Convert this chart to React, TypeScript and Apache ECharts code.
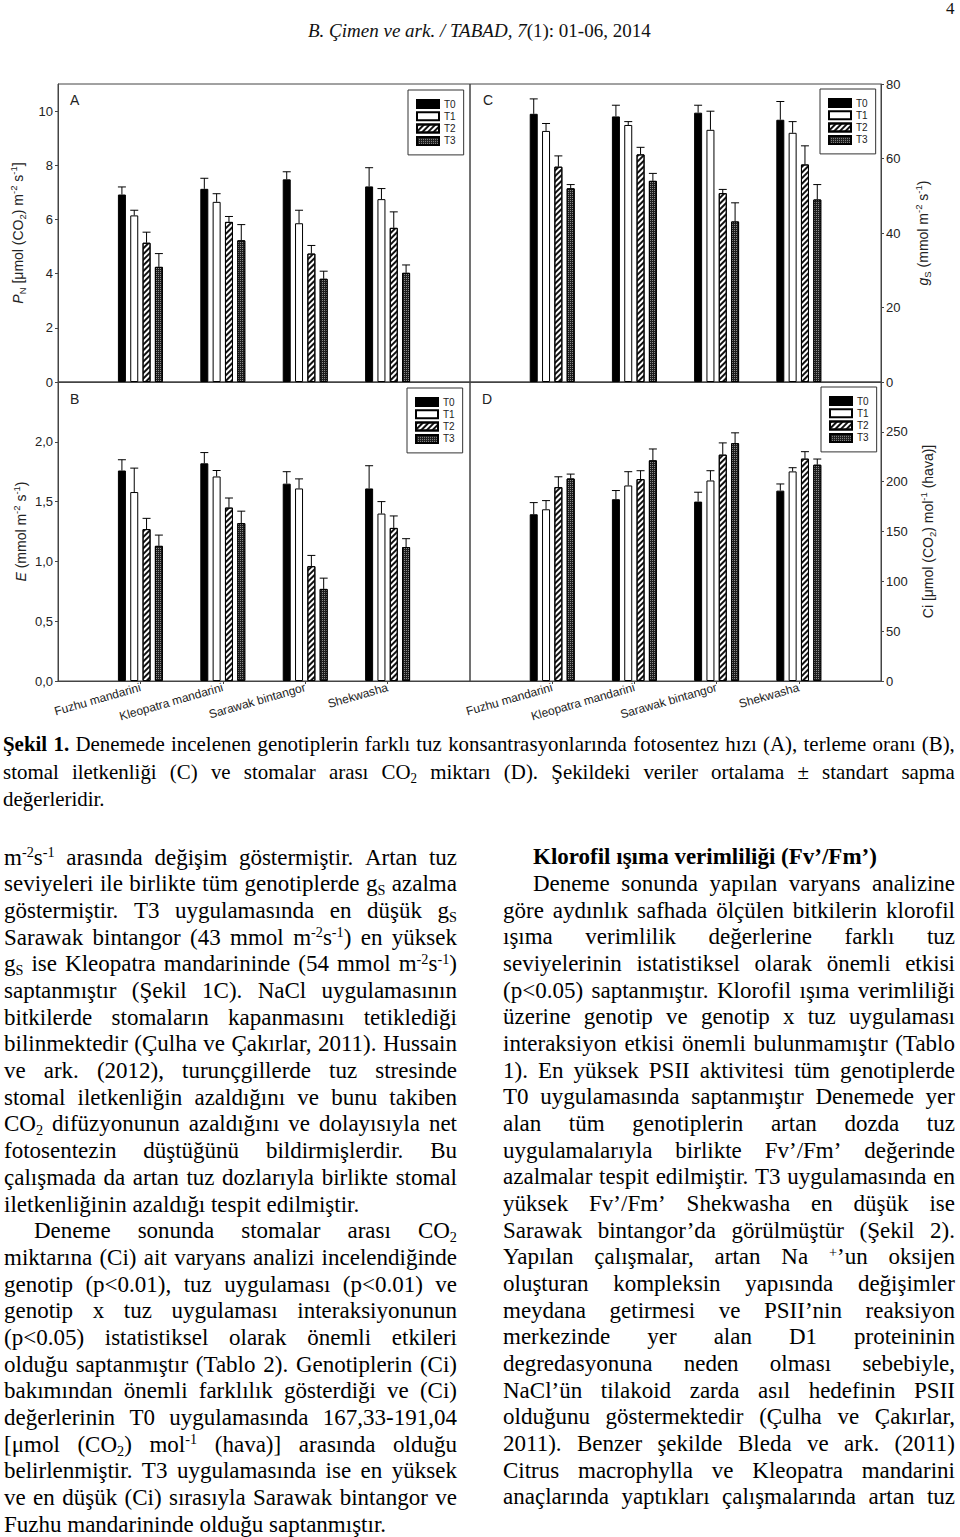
import React, { useEffect, useRef } from 'react';
import * as echarts from 'echarts';

// ---------------- data ----------------
const CATEGORIES = ['Fuzhu mandarini', 'Kleopatra mandarini', 'Sarawak bintangor', 'Shekwasha'];
const TREATMENTS = ['T0', 'T1', 'T2', 'T3'];

// A: photosynthesis rate PN (rows = T0..T3, columns = genotypes)
const PN_MEAN = [
  [6.92, 7.13, 7.48, 7.22],
  [6.15, 6.65, 5.86, 6.75],
  [5.14, 5.91, 4.74, 5.69],
  [4.25, 5.23, 3.81, 4.03],
];
const PN_ERR = [
  [0.28, 0.39, 0.28, 0.69],
  [0.19, 0.3, 0.48, 0.39],
  [0.39, 0.2, 0.3, 0.59],
  [0.49, 0.58, 0.28, 0.29],
];
// C: stomatal conductance gS
const GS_MEAN = [
  [72.0, 71.3, 72.3, 70.4],
  [67.4, 69.0, 67.7, 66.9],
  [57.8, 61.1, 50.7, 58.4],
  [52.0, 54.0, 43.1, 49.0],
];
const GS_ERR = [
  [4.0, 3.0, 2.0, 4.9],
  [2.0, 0.9, 5.0, 3.0],
  [2.9, 1.9, 1.0, 5.0],
  [1.0, 2.0, 5.0, 4.0],
];
// B: transpiration E
const E_MEAN = [
  [1.76, 1.82, 1.65, 1.61],
  [1.58, 1.71, 1.61, 1.4],
  [1.27, 1.45, 0.96, 1.28],
  [1.13, 1.32, 0.77, 1.12],
];
const E_ERR = [
  [0.09, 0.09, 0.1, 0.19],
  [0.2, 0.05, 0.08, 0.1],
  [0.09, 0.08, 0.09, 0.1],
  [0.09, 0.1, 0.09, 0.07],
];
// D: intercellular CO2 Ci
const CI_MEAN = [
  [167.3, 182.4, 180.0, 191.0],
  [172.3, 196.2, 201.2, 210.3],
  [194.5, 202.6, 227.1, 223.1],
  [203.2, 221.4, 238.6, 217.0],
];
const CI_ERR = [
  [11.7, 8.7, 9.4, 6.7],
  [8.7, 13.8, 9.8, 3.7],
  [10.4, 8.4, 11.8, 7.0],
  [4.4, 11.4, 10.4, 5.7],
];

const PN_TICKS = [0, 2, 4, 6, 8, 10];
const GS_TICKS = [0, 20, 40, 60, 80];
const E_TICKS = [0, 0.5, 1, 1.5, 2];
const CI_TICKS = [0, 50, 100, 150, 200, 250];

// ---------------- text ----------------
type Line = { t: string; j: boolean; indent?: number; bold?: boolean };

const CAPTION: Line[] = [
  { t: '*Şekil* *1.* Denemede incelenen genotiplerin farklı tuz konsantrasyonlarında fotosentez hızı (A), terleme oranı (B),', j: true },
  { t: 'stomal iletkenliği (C) ve stomalar arası CO_{2} miktarı (D). Şekildeki veriler ortalama ± standart sapma', j: true },
  { t: 'değerleridir.', j: false },
];

const LEFT_COL: Line[] = [
  { t: 'm^{-2}s^{-1} arasında değişim göstermiştir. Artan tuz', j: true },
  { t: 'seviyeleri ile birlikte tüm genotiplerde g_{S} azalma', j: true },
  { t: 'göstermiştir. T3 uygulamasında en düşük g_{S}', j: true },
  { t: 'Sarawak bintangor (43 mmol m^{-2}s^{-1}) en yüksek', j: true },
  { t: 'g_{S} ise Kleopatra mandarininde (54 mmol m^{-2}s^{-1})', j: true },
  { t: 'saptanmıştır (Şekil 1C). NaCl uygulamasının', j: true },
  { t: 'bitkilerde stomaların kapanmasını tetiklediği', j: true },
  { t: 'bilinmektedir (Çulha ve Çakırlar, 2011). Hussain', j: true },
  { t: 've ark. (2012), turunçgillerde tuz stresinde', j: true },
  { t: 'stomal iletkenliğin azaldığını ve bunu takiben', j: true },
  { t: 'CO_{2} difüzyonunun azaldığını ve dolayısıyla net', j: true },
  { t: 'fotosentezin düştüğünü bildirmişlerdir. Bu', j: true },
  { t: 'çalışmada da artan tuz dozlarıyla birlikte stomal', j: true },
  { t: 'iletkenliğinin azaldığı tespit edilmiştir.', j: false },
  { t: 'Deneme sonunda stomalar arası CO_{2}', j: true, indent: 30 },
  { t: 'miktarına (Ci) ait varyans analizi incelendiğinde', j: true },
  { t: 'genotip (p<0.01), tuz uygulaması (p<0.01) ve', j: true },
  { t: 'genotip x tuz uygulaması interaksiyonunun', j: true },
  { t: '(p<0.05) istatistiksel olarak önemli etkileri', j: true },
  { t: 'olduğu saptanmıştır (Tablo 2). Genotiplerin (Ci)', j: true },
  { t: 'bakımından önemli farklılık gösterdiği ve (Ci)', j: true },
  { t: 'değerlerinin T0 uygulamasında 167,33-191,04', j: true },
  { t: '[μmol (CO_{2}) mol^{-1} (hava)] arasında olduğu', j: true },
  { t: 'belirlenmiştir. T3 uygulamasında ise en yüksek', j: true },
  { t: 've en düşük (Ci) sırasıyla Sarawak bintangor ve', j: true },
  { t: 'Fuzhu mandarininde olduğu saptanmıştır.', j: false },
];

const RIGHT_COL: Line[] = [
  { t: 'Klorofil ışıma verimliliği (Fv’/Fm’)', j: false, indent: 30, bold: true },
  { t: 'Deneme sonunda yapılan varyans analizine', j: true, indent: 30 },
  { t: 'göre aydınlık safhada ölçülen bitkilerin klorofil', j: true },
  { t: 'ışıma verimlilik değerlerine farklı tuz', j: true },
  { t: 'seviyelerinin istatistiksel olarak önemli etkisi', j: true },
  { t: '(p<0.05) saptanmıştır. Klorofil ışıma verimliliği', j: true },
  { t: 'üzerine genotip ve genotip x tuz uygulaması', j: true },
  { t: 'interaksiyon etkisi önemli bulunmamıştır (Tablo', j: true },
  { t: '1). En yüksek PSII aktivitesi tüm genotiplerde', j: true },
  { t: 'T0 uygulamasında saptanmıştır Denemede yer', j: true },
  { t: 'alan tüm genotiplerin artan dozda tuz', j: true },
  { t: 'uygulamalarıyla birlikte Fv’/Fm’ değerinde', j: true },
  { t: 'azalmalar tespit edilmiştir. T3 uygulamasında en', j: true },
  { t: 'yüksek Fv’/Fm’ Shekwasha en düşük ise', j: true },
  { t: 'Sarawak bintangor’da görülmüştür (Şekil 2).', j: true },
  { t: 'Yapılan çalışmalar, artan Na ^{+}’un oksijen', j: true },
  { t: 'oluşturan kompleksin yapısında değişimler', j: true },
  { t: 'meydana getirmesi ve PSII’nin reaksiyon', j: true },
  { t: 'merkezinde yer alan D1 proteininin', j: true },
  { t: 'degredasyonuna neden olması sebebiyle,', j: true },
  { t: 'NaCl’ün tilakoid zarda asıl hedefinin PSII', j: true },
  { t: 'olduğunu göstermektedir (Çulha ve Çakırlar,', j: true },
  { t: '2011). Benzer şekilde Bleda ve ark. (2011)', j: true },
  { t: 'Citrus macrophylla ve Kleopatra mandarini', j: true },
  { t: 'anaçlarında yaptıkları çalışmalarında artan tuz', j: true },
];

const SERIF = '"Liberation Serif", "Times New Roman", serif';
const SANS = 'Liberation Sans';

const TOKEN = /(\^\{[^}]*\}|_\{[^}]*\}|\*[^*]+\*)/g;
const SUP: React.CSSProperties = { fontSize: '0.62em', position: 'relative', top: '-0.55em', lineHeight: 0 };
const SUB: React.CSSProperties = { fontSize: '0.62em', position: 'relative', top: '0.28em', lineHeight: 0 };

function renderWord(w: string, k: number) {
  const parts = w.split(TOKEN).filter((p) => p !== '');
  return (
    <span key={k} style={{ whiteSpace: 'nowrap' }}>
      {parts.map((p, i) => {
        if (p.startsWith('^{')) return <span key={i} style={SUP}>{p.slice(2, -1)}</span>;
        if (p.startsWith('_{')) return <span key={i} style={SUB}>{p.slice(2, -1)}</span>;
        if (p.length > 2 && p.startsWith('*') && p.endsWith('*')) return <b key={i}>{p.slice(1, -1)}</b>;
        return <React.Fragment key={i}>{p}</React.Fragment>;
      })}
    </span>
  );
}

function TextBlock(props: {
  lines: Line[]; x: number; width: number; firstCenter: number; lh: number; fontSize: number; squeeze?: number;
}) {
  const { lines, x, width, firstCenter, lh, fontSize } = props;
  const sq = props.squeeze || 1;
  return (
    <>
      {lines.map((ln, i) => {
        const ind = ln.indent || 0;
        return (
          <div
            key={i}
            style={{
              position: 'absolute',
              left: x + ind,
              top: firstCenter + i * lh - lh / 2,
              width: (width - ind) / sq,
              height: lh,
              lineHeight: lh + 'px',
              display: 'flex',
              justifyContent: ln.j ? 'space-between' : 'flex-start',
              columnGap: '0.25em',
              whiteSpace: 'nowrap',
              fontSize,
              fontFamily: SERIF,
              fontWeight: ln.bold ? 700 : 400,
              color: '#000',
              transform: sq !== 1 ? `scaleX(${sq})` : undefined,
              transformOrigin: 'left center',
            }}
          >
            {ln.t.split(' ').map((w, k) => renderWord(w, k))}
          </div>
        );
      })}
    </>
  );
}

// ---------------- chart ----------------
const BAR_W = 8;
const BAR_GAP = 0.54;

const commaFmt = (v: number) => v.toFixed(1).replace('.', ',');

function buildOption() {
  const rich = {
    t: { fontSize: 14, fontFamily: SANS, color: '#222', lineHeight: 19 },
    i: { fontSize: 14, fontFamily: SANS, color: '#222', lineHeight: 19, fontStyle: 'italic' },
    s: { fontSize: 9.5, fontFamily: SANS, color: '#222', lineHeight: 9, verticalAlign: 'bottom' },
    u: { fontSize: 9.5, fontFamily: SANS, color: '#222', lineHeight: 9, verticalAlign: 'top' },
  };

  const panels = [
    {
      grid: { left: 58, top: 84, width: 412, height: 298 },
      mean: PN_MEAN, err: PN_ERR, ticks: PN_TICKS, max: 11, pos: 'left', nameGap: 31, showX: false,
      name: '{i|P}{s|N}{t| [μmol (CO}{s|2}{t|) m}{u|-2}{t| s}{u|-1}{t|]}',
      legend: { left: 408, top: 90 }, letter: { text: 'A', x: 70, y: 93 }, fmt: (v: number) => String(v),
    },
    {
      grid: { left: 470, top: 84, width: 411, height: 298 },
      mean: GS_MEAN, err: GS_ERR, ticks: GS_TICKS, max: 80, pos: 'right', nameGap: 32, showX: false,
      name: '{i|g}{s|S}{t| (mmol m}{u|-2}{t| s}{u|-1}{t|)}',
      legend: { left: 820, top: 89 }, letter: { text: 'C', x: 483, y: 93 }, fmt: (v: number) => String(v),
    },
    {
      grid: { left: 58, top: 382, width: 412, height: 299 },
      mean: E_MEAN, err: E_ERR, ticks: E_TICKS, max: 2.5, pos: 'left', nameGap: 28, showX: true,
      name: '{i|E}{t| (mmol m}{u|-2}{t| s}{u|-1}{t|)}',
      legend: { left: 407, top: 388 }, letter: { text: 'B', x: 70, y: 392 }, fmt: commaFmt,
    },
    {
      grid: { left: 470, top: 382, width: 411, height: 299 },
      mean: CI_MEAN, err: CI_ERR, ticks: CI_TICKS, max: 300, pos: 'right', nameGap: 37, showX: true,
      name: '{t|Ci [μmol (CO}{s|2}{t|) mol}{u|-1}{t| (hava)]}',
      legend: { left: 821, top: 387 }, letter: { text: 'D', x: 482, y: 392 }, fmt: (v: number) => String(v),
    },
  ];

  const barStyles: any[] = [
    { color: '#000', borderColor: '#000', borderWidth: 1 },
    { color: '#fff', borderColor: '#000', borderWidth: 1 },
    {
      color: '#fff', borderColor: '#000', borderWidth: 1,
      decal: { symbol: 'rect', symbolSize: 1, dashArrayX: [1, 0], dashArrayY: [1.2, 1.8], rotation: -Math.PI / 4, color: '#111' },
    },
    {
      color: '#1e1e1e', borderColor: '#000', borderWidth: 1,
      decal: { symbol: 'rect', symbolSize: 1, dashArrayX: [1, 1], dashArrayY: [1, 1], color: '#8a8a8a' },
    },
  ];

  const xCats = ['', ...CATEGORIES, ''];
  const showIdx = (idx: number) => idx >= 1 && idx <= CATEGORIES.length;

  const series: any[] = [];
  panels.forEach((p, pi) => {
    TREATMENTS.forEach((tName, ti) => {
      series.push({
        type: 'bar',
        name: tName,
        xAxisIndex: pi,
        yAxisIndex: pi,
        barWidth: BAR_W,
        barGap: BAR_GAP * 100 + '%',
        itemStyle: barStyles[ti],
        z: 2,
        silent: true,
        data: p.mean[ti].map((v, ci) => [ci + 1, v]),
      });
    });
    TREATMENTS.forEach((tName, ti) => {
      const off = (ti - 1.5) * BAR_W * (1 + BAR_GAP);
      series.push({
        type: 'custom',
        xAxisIndex: pi,
        yAxisIndex: pi,
        z: 3,
        silent: true,
        encode: { x: 0, y: [1, 2] },
        data: p.mean[ti].map((v, ci) => [ci + 1, v, v + p.err[ti][ci]]),
        renderItem: (params: any, api: any) => {
          const base = api.coord([api.value(0), api.value(1)]);
          const top = api.coord([api.value(0), api.value(2)]);
          const x = base[0] + off;
          const st = { stroke: '#000', lineWidth: 1 };
          return {
            type: 'group',
            children: [
              { type: 'line', shape: { x1: x, y1: base[1], x2: x, y2: top[1] }, style: st },
              { type: 'line', shape: { x1: x - 4, y1: top[1], x2: x + 4, y2: top[1] }, style: st },
            ],
          };
        },
      });
    });
  });

  return {
    animation: false,
    backgroundColor: 'transparent',
    grid: panels.map((p) => ({ ...p.grid, show: true, borderColor: '#444', borderWidth: 1, backgroundColor: 'transparent' })),
    xAxis: panels.map((p, pi) => ({
      type: 'category',
      gridIndex: pi,
      data: xCats,
      boundaryGap: false,
      axisLine: { show: true, lineStyle: { color: '#444', width: 1 } },
      axisTick: { show: p.showX, length: 3, interval: (idx: number) => showIdx(idx), lineStyle: { color: '#444' } },
      axisLabel: {
        show: p.showX,
        interval: (idx: number) => showIdx(idx),
        rotate: 16,
        margin: 6,
        fontSize: 12,
        fontFamily: SANS,
        color: '#222',
      },
      splitLine: { show: false },
    })),
    yAxis: panels.map((p, pi) => ({
      type: 'value',
      gridIndex: pi,
      position: p.pos,
      min: 0,
      max: p.max,
      splitLine: { show: false },
      axisLine: { show: true, lineStyle: { color: '#444', width: 1 } },
      axisTick: { show: true, length: 3, customValues: p.ticks, lineStyle: { color: '#444' } },
      axisLabel: { customValues: p.ticks, formatter: p.fmt, fontSize: 13, margin: 5, fontFamily: SANS, color: '#222' },
      name: p.name,
      nameLocation: 'middle',
      nameRotate: 90,
      nameGap: p.nameGap,
      nameTextStyle: { fontSize: 14, fontFamily: SANS, color: '#222', lineHeight: 19, rich },
    })),
    legend: panels.map((p) => ({
      data: TREATMENTS,
      orient: 'vertical',
      left: p.legend.left,
      top: p.legend.top,
      itemWidth: 22,
      itemHeight: 8,
      itemGap: 0.3,
      padding: [8, 8],
      borderColor: '#333',
      borderWidth: 1,
      icon: 'rect',
      selectedMode: false,
      textStyle: { fontSize: 10, fontFamily: SANS, color: '#222', lineHeight: 12 },
    })),
    graphic: panels.map((p) => ({
      type: 'text',
      left: p.letter.x,
      top: p.letter.y,
      silent: true,
      style: { text: p.letter.text, fontSize: 14, fontFamily: SANS, fill: '#222' },
    })),
    series,
  };
}

export default function App() {
  const ref = useRef<HTMLDivElement>(null);
  useEffect(() => {
    if (!ref.current) return;
    const chart = echarts.init(ref.current, null, { renderer: 'svg' });
    chart.setOption(buildOption() as any);
    return () => chart.dispose();
  }, []);

  return (
    <div style={{ position: 'absolute', left: 0, top: 0, width: 960, height: 1537, background: '#fff', overflow: 'hidden' }}>
      <div ref={ref} style={{ position: 'absolute', left: 0, top: 0, width: 960, height: 730 }} />
      <div
        style={{
          position: 'absolute', left: 308, top: 19, fontSize: 19, lineHeight: '24px',
          whiteSpace: 'nowrap', fontFamily: SERIF, color: '#111',
        }}
      >
        <i>B. Çimen ve ark. / TABAD, 7</i>(1): 01-06, 2014
      </div>
      <div style={{ position: 'absolute', left: 946, top: 0, fontSize: 17, lineHeight: '18px', fontFamily: SERIF, color: '#111' }}>4</div>
      <TextBlock lines={CAPTION} x={3} width={952} firstCenter={744} lh={27.5} fontSize={22} squeeze={0.95} />
      <TextBlock lines={LEFT_COL} x={4} width={453} firstCenter={858} lh={26.68} fontSize={23} />
      <TextBlock lines={RIGHT_COL} x={503} width={452} firstCenter={857.5} lh={26.68} fontSize={23} />
    </div>
  );
}
